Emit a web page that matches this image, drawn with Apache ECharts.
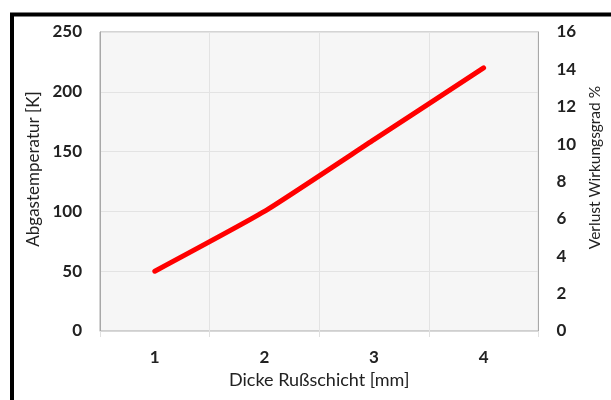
<!DOCTYPE html>
<html><head><meta charset="utf-8">
<script src="https://cdn.jsdelivr.net/npm/echarts@6/dist/echarts.min.js"></script>
<style>html,body{margin:0;padding:0;background:#fff}#c{width:611px;height:400px}</style>
</head><body><div id="c"></div>
<script>
const categories = ['1', '2', '3', '4'];
const abgastemperatur = [50, 100, 160, 220];
const leftTicks = [0, 50, 100, 150, 200, 250];
const rightTicks = [0, 2, 4, 6, 8, 10, 12, 14, 16];

const chart = echarts.init(document.getElementById('c'));
const font = 'Lato, "Open Sans", sans-serif';
chart.setOption({
  animation: false,
  backgroundColor: '#fff',
  graphic: [{
    type: 'rect', silent: true, z: 100,
    shape: { x: 12, y: 14.5, width: 700, height: 500 },
    style: { fill: 'none', stroke: '#000', lineWidth: 4 }
  }],
  grid: {
    left: 100, right: 69, top: 32, bottom: 69,
    show: true, backgroundColor: '#f6f6f6', borderColor: '#a8a8a8', borderWidth: 1
  },
  xAxis: {
    type: 'category', data: categories, boundaryGap: true,
    name: 'Dicke Rußschicht [mm]', nameLocation: 'middle', nameGap: 38,
    nameTextStyle: { fontFamily: font, fontSize: 18, color: '#222' },
    axisLine: { lineStyle: { color: '#d8d8d8' } },
    axisTick: { show: true, length: 6, lineStyle: { color: '#e0e0e0' } },
    splitLine: { show: true, lineStyle: { color: '#e3e3e3' } },
    axisLabel: { fontFamily: font, fontSize: 17, fontWeight: 'bold', color: '#222', margin: 18 }
  },
  yAxis: [{
    type: 'value', min: leftTicks[0], max: leftTicks[leftTicks.length - 1], interval: 50,
    name: 'Abgastemperatur [K]', nameLocation: 'middle', nameGap: 49, nameRotate: 90,
    nameTextStyle: { fontFamily: font, fontSize: 17, color: '#222', padding: [0, 0, 0, 25] },
    axisLine: { show: true, lineStyle: { color: '#a8a8a8' } },
    axisTick: { show: false },
    splitLine: { show: true, lineStyle: { color: '#e3e3e3' } },
    axisLabel: { fontFamily: font, fontSize: 17, fontWeight: 'bold', color: '#222', margin: 18 }
  }, {
    type: 'value', min: rightTicks[0], max: rightTicks[rightTicks.length - 1], interval: 2,
    name: 'Verlust Wirkungsgrad %', nameLocation: 'middle', nameGap: 46, nameRotate: 90,
    nameTextStyle: { fontFamily: font, fontSize: 15.5, color: '#222', padding: [0, 0, 0, 28] },
    axisLine: { show: true, lineStyle: { color: '#a8a8a8' } },
    axisTick: { show: false },
    splitLine: { show: false },
    axisLabel: { fontFamily: font, fontSize: 17, fontWeight: 'bold', color: '#222', margin: 18 }
  }],
  series: [{
    type: 'line', data: abgastemperatur, yAxisIndex: 0,
    showSymbol: false, smooth: 0.15,
    lineStyle: { color: '#ff0000', width: 5, cap: 'round' }
  }]
});
</script></body></html>
